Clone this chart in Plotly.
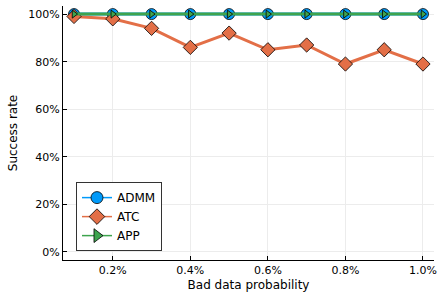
import plotly.graph_objects as go

probability = [0.1, 0.2, 0.3, 0.4, 0.5, 0.6, 0.7, 0.8, 0.9, 1.0]
admm = [1.0, 1.0, 1.0, 1.0, 1.0, 1.0, 1.0, 1.0, 1.0, 1.0]
atc = [0.99, 0.98, 0.94, 0.86, 0.92, 0.85, 0.87, 0.79, 0.85, 0.79]
app = [1.0, 1.0, 1.0, 1.0, 1.0, 1.0, 1.0, 1.0, 1.0, 1.0]

x_ticks = [0.2, 0.4, 0.6, 0.8, 1.0]
x_labels = ["0.2%", "0.4%", "0.6%", "0.8%", "1.0%"]
y_ticks = [0, 0.2, 0.4, 0.6, 0.8, 1.0]
y_labels = ["0%", "20%", "40%", "60%", "80%", "100%"]

series = [
    ("ADMM", admm, "#009AFA", "circle", 11),
    ("ATC", atc, "#E36F47", "diamond", 11),
    ("APP", app, "#3EA44E", "triangle-right", 7),
]

font = "DejaVu Sans"
fig = go.Figure()
for name, vals, color, sym, size in series:
    fig.add_trace(go.Scatter(x=probability, y=vals, name=name, mode="lines+markers",
                             showlegend=False,
                             line=dict(color=color, width=3),
                             marker=dict(symbol=sym, size=size, color=color,
                                         line=dict(color="black", width=0.8))))
for name, vals, color, sym, size in series:
    fig.add_trace(go.Scatter(x=[None], y=[None], name=name, mode="lines+markers",
                             line=dict(color=color, width=1.5),
                             marker=dict(symbol=sym, size=12, color=color,
                                         line=dict(color="black", width=0.8))))

axis_common = dict(showgrid=True, gridcolor="#ececec", gridwidth=1,
                   showline=True, linecolor="black", linewidth=1,
                   ticks="inside", ticklen=4, tickcolor="black",
                   zeroline=False, tickfont=dict(family=font, size=11, color="black"),
                   mirror=False, automargin=False)

fig.update_xaxes(range=[0.0716, 1.0284], tickvals=x_ticks, ticktext=x_labels,
                 title=dict(text="Bad data probability", font=dict(family=font, size=12, color="black"),
                            standoff=4),
                 **axis_common)
fig.update_yaxes(range=[-0.034, 1.034], tickvals=y_ticks, ticktext=y_labels,
                 title=dict(text="Success rate", font=dict(family=font, size=12, color="black"),
                            standoff=8),
                 **axis_common)

fig.update_layout(
    width=443, height=295,
    margin=dict(l=63, r=9, t=6, b=35, autoexpand=False),
    paper_bgcolor="white", plot_bgcolor="white",
    font=dict(family=font, size=11, color="black"),
    legend=dict(x=0.035, y=0.035, xanchor="left", yanchor="bottom",
                bordercolor="#333333", borderwidth=1, bgcolor="white",
                font=dict(family=font, size=12, color="black"),
                tracegroupgap=0),
    showlegend=True,
)

fig.write_html("out.html", config={"displayModeBar": False},
               post_script="document.body.style.margin='0';document.body.style.padding='0';")
